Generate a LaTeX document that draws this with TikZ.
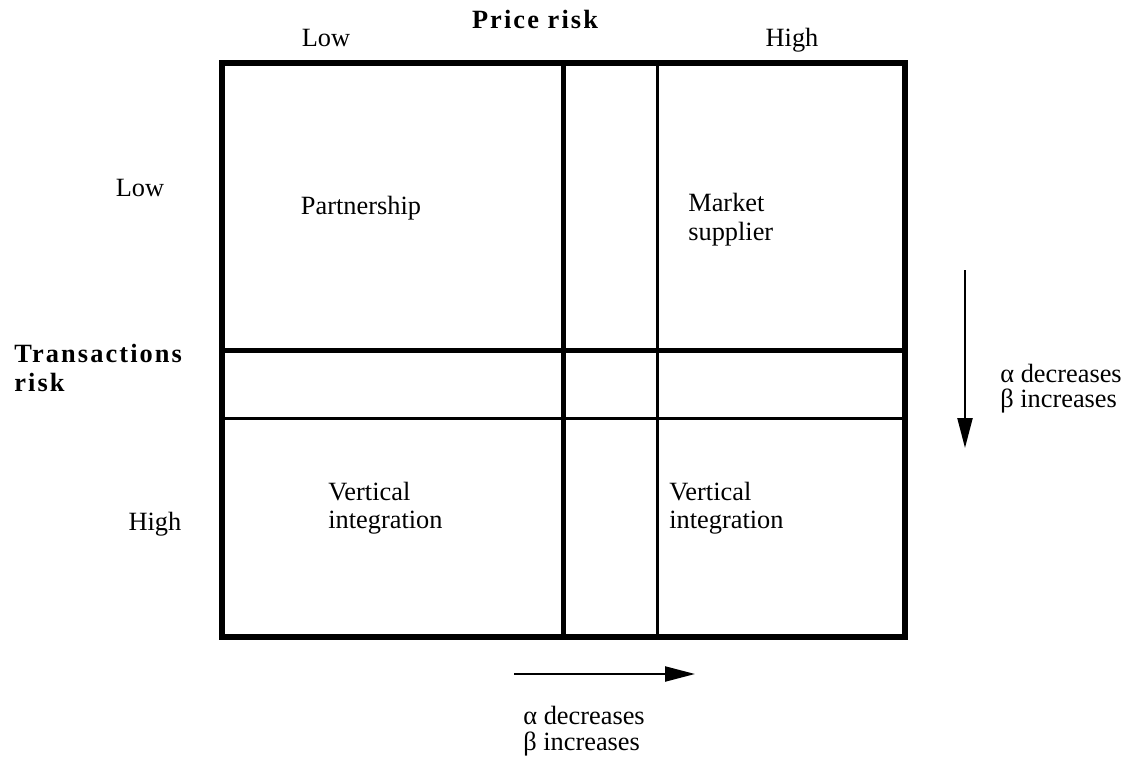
\documentclass[tikz,border=0pt]{standalone}
\usepackage{fontspec}
\setmainfont{Liberation Serif}
\newfontfamily\headfont[LetterSpace=8]{Liberation Serif}
\usetikzlibrary{arrows.meta}
\tikzset{
    frame/.style={line width=0.11cm},
    thickrule/.style={line width=0.1cm},
    thinrule/.style={line width=0.06cm},
    lbl/.style={font=\fontsize{15}{18}\selectfont, inner sep=0pt},
    head/.style={font=\headfont\bfseries\fontsize{15}{18}\selectfont, inner sep=0pt},
    trend/.style={line width=1.3pt, -{Triangle[length=0.6cm,width=0.3cm]}}
}

\begin{document}
\begin{tikzpicture}[x=0.02cm, y=-0.02cm]
\useasboundingbox (0,0) rectangle (1127,771);
% grid corners
\coordinate (NW) at (222,63);
\coordinate (SE) at (905,637);
\coordinate (v1t) at (563,63);
\coordinate (v1b) at (563,637);
\coordinate (v2t) at (657,63);
\coordinate (v2b) at (657,637);
\coordinate (h1l) at (222,350);
\coordinate (h1r) at (905,350);
\coordinate (h2l) at (222,418);
\coordinate (h2r) at (905,418);
\draw [thickrule] (v1t) -- (v1b);
\draw [thinrule] (v2t) -- (v2b);
\draw [thickrule] (h1l) -- (h1r);
\draw [thinrule] (h2l) -- (h2r);
\draw [frame] (NW) rectangle (SE);
% axis labels
\node [head, anchor=base] (price) at (535,28) {Price risk};
\node [lbl, anchor=base] (plow) at (326,46) {Low};
\node [lbl, anchor=base] (phigh) at (792,46) {High};
\node [head, anchor=base west] (trans) at (14,362) {Transactions};
\node [head, anchor=base west] (trisk) at (14,391) {risk};
\node [lbl, anchor=base] (tlow) at (140,196) {Low};
\node [lbl, anchor=base] (thigh) at (155,530) {High};
% cells
\node [lbl, anchor=base] (part) at (361,214) {Partnership};
\node [lbl, anchor=base west] (mkt) at (688,211) {Market};
\node [lbl, anchor=base west] (supp) at (688,240) {supplier};
\node [lbl, anchor=base west] (vert1) at (328,500) {Vertical};
\node [lbl, anchor=base west] (integ1) at (328,528) {integration};
\node [lbl, anchor=base west] (vert2) at (669,500) {Vertical};
\node [lbl, anchor=base west] (integ2) at (669,528) {integration};
% trends
\coordinate (down0) at (965,270);
\coordinate (down1) at (965,448);
\draw [trend] (down0) -- (down1);
\node [lbl, anchor=base west] (adec1) at (1000,382) {α decreases};
\node [lbl, anchor=base west] (binc1) at (1000,407) {β increases};
\coordinate (right0) at (514,674);
\coordinate (right1) at (695,674);
\draw [trend] (right0) -- (right1);
\node [lbl, anchor=base west] (adec2) at (523,724) {α decreases};
\node [lbl, anchor=base west] (binc2) at (523,750) {β increases};
\end{tikzpicture}
\end{document}
